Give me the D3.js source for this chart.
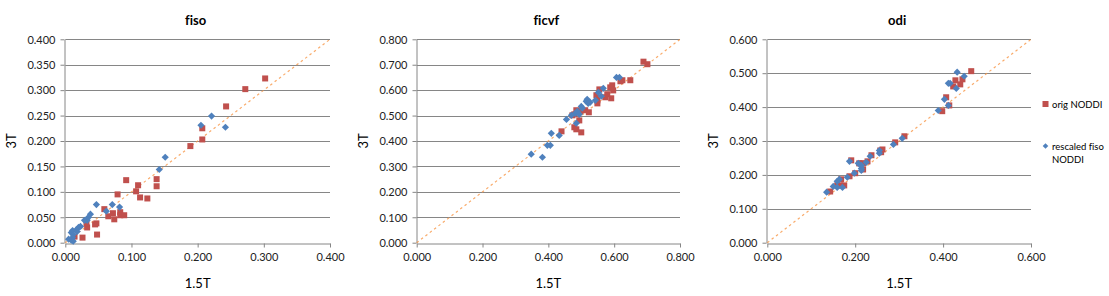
<!DOCTYPE html>
<html lang="en">
<head>
<meta charset="UTF-8">
<title>fiso / ficvf / odi 1.5T vs 3T</title>
<script src="https://d3js.org/d3.v7.min.js"></script>
<style>
    body { margin: 0; padding: 0; background: #fff; }
    svg { display: block; font-family: Lato, "Liberation Sans", Arial, sans-serif; font-variant-ligatures: none; }
    .tick text { fill: #222; font-size: 11px; }
</style>
</head>
<body>
<svg id="chart" width="1109" height="296"></svg>
<script>
// [1.5T, 3T] pairs
const fisoOrig = [
    [0.302, 0.323], [0.272, 0.302], [0.243, 0.268], [0.207, 0.225], [0.207, 0.203],
    [0.189, 0.190], [0.138, 0.125], [0.138, 0.111], [0.092, 0.123], [0.110, 0.113],
    [0.107, 0.101], [0.113, 0.089], [0.124, 0.087], [0.079, 0.095], [0.059, 0.066],
    [0.072, 0.058], [0.065, 0.052], [0.074, 0.046], [0.083, 0.060], [0.083, 0.054],
    [0.089, 0.054], [0.047, 0.038], [0.045, 0.036], [0.033, 0.030], [0.032, 0.038],
    [0.048, 0.016], [0.026, 0.010], [0.014, 0.012]
];
const fisoRescaled = [
    [0.221, 0.249], [0.205, 0.231], [0.242, 0.227], [0.151, 0.168], [0.142, 0.144],
    [0.047, 0.075], [0.071, 0.075], [0.082, 0.070], [0.062, 0.062], [0.038, 0.056],
    [0.035, 0.050], [0.033, 0.044], [0.029, 0.044], [0.023, 0.032], [0.020, 0.030],
    [0.017, 0.026], [0.018, 0.022], [0.011, 0.024], [0.009, 0.020], [0.012, 0.016],
    [0.011, 0.010], [0.005, 0.007], [0.009, 0.005], [0.012, 0.003]
];
const ficvfOrig = [
    [0.689, 0.712], [0.701, 0.702], [0.649, 0.639], [0.625, 0.639], [0.619, 0.635],
    [0.594, 0.619], [0.588, 0.611], [0.597, 0.599], [0.555, 0.603], [0.579, 0.584],
    [0.573, 0.572], [0.591, 0.568], [0.546, 0.580], [0.549, 0.560], [0.549, 0.548],
    [0.512, 0.521], [0.497, 0.517], [0.485, 0.521], [0.523, 0.513], [0.479, 0.505],
    [0.473, 0.501], [0.494, 0.481], [0.440, 0.438], [0.479, 0.454], [0.485, 0.446],
    [0.500, 0.434]
];
const ficvfRescaled = [
    [0.607, 0.650], [0.616, 0.650], [0.567, 0.607], [0.552, 0.591], [0.561, 0.576],
    [0.543, 0.560], [0.518, 0.564], [0.515, 0.556], [0.521, 0.548], [0.527, 0.552],
    [0.500, 0.536], [0.503, 0.529], [0.488, 0.517], [0.482, 0.509], [0.494, 0.505],
    [0.470, 0.501], [0.455, 0.485], [0.485, 0.470], [0.409, 0.430], [0.433, 0.422],
    [0.397, 0.383], [0.406, 0.383], [0.348, 0.348], [0.382, 0.336]
];
const odiOrig = [
    [0.464, 0.506], [0.444, 0.482], [0.428, 0.479], [0.439, 0.467], [0.423, 0.461],
    [0.407, 0.429], [0.414, 0.405], [0.398, 0.388], [0.312, 0.314], [0.291, 0.296],
    [0.262, 0.275], [0.257, 0.272], [0.259, 0.267], [0.237, 0.258], [0.228, 0.240],
    [0.218, 0.234], [0.214, 0.234], [0.209, 0.234], [0.218, 0.216], [0.191, 0.243],
    [0.200, 0.205], [0.187, 0.196], [0.168, 0.187], [0.175, 0.169], [0.166, 0.169],
    [0.159, 0.169], [0.143, 0.151]
];
const odiRescaled = [
    [0.432, 0.503], [0.448, 0.491], [0.412, 0.470], [0.416, 0.470], [0.430, 0.455],
    [0.403, 0.423], [0.412, 0.405], [0.389, 0.390], [0.307, 0.308], [0.287, 0.290],
    [0.255, 0.272], [0.255, 0.264], [0.234, 0.255], [0.225, 0.237], [0.207, 0.234],
    [0.214, 0.228], [0.214, 0.219], [0.214, 0.213], [0.187, 0.240], [0.198, 0.205],
    [0.182, 0.193], [0.164, 0.187], [0.159, 0.181], [0.150, 0.166], [0.159, 0.163],
    [0.171, 0.163], [0.135, 0.149]
];

const panelTitles = ['fiso', 'ficvf', 'odi'];
const axisMax = [0.4, 0.8, 0.6];
const xTickStep = [0.1, 0.2, 0.2];
const yTickStep = [0.05, 0.1, 0.1];
const seriesNames = ['orig NODDI', 'rescaled fiso NODDI'];

const panelData = [
    [fisoOrig, fisoRescaled],
    [ficvfOrig, ficvfRescaled],
    [odiOrig, odiRescaled]
];

// plot area boxes (left, right) per panel, shared top/bottom
const plotLeft = [65.3, 416.7, 767.3];
const plotRight = [330, 680, 1031];
const plotTop = 39.3;
const plotBottom = 242.7;

const red = '#C0504D';
const blue = '#4F81BD';
const gridColor = '#868686';

const svg = d3.select('#chart');
const fmt = d3.format('.3f');

const diamond = 'M0,-3.6L3.6,0L0,3.6L-3.6,0Z';

panelTitles.forEach((title, i) => {
    const x = d3.scaleLinear().domain([0, axisMax[i]]).range([plotLeft[i], plotRight[i]]);
    const y = d3.scaleLinear().domain([0, axisMax[i]]).range([plotBottom, plotTop]);
    const xTicks = d3.range(0, axisMax[i] + 1e-9, xTickStep[i]);
    const yTicks = d3.range(0, axisMax[i] + 1e-9, yTickStep[i]);

    const g = svg.append('g');

    // horizontal gridlines
    g.selectAll('.grid')
        .data(yTicks.filter(d => d > 0))
        .enter()
        .append('line')
        .attr('x1', plotLeft[i])
        .attr('x2', plotRight[i])
        .attr('y1', d => Math.round(y(d)) + 0.5)
        .attr('y2', d => Math.round(y(d)) + 0.5)
        .attr('stroke', gridColor)
        .attr('stroke-width', 1);

    // axes
    const xAxis = g.append('g')
        .attr('transform', `translate(0,${Math.round(plotBottom) + 0.5})`)
        .call(d3.axisBottom(x).tickValues(xTicks).tickFormat(fmt).tickSize(4).tickSizeOuter(0).tickPadding(6));
    const yAxis = g.append('g')
        .attr('transform', `translate(${Math.round(plotLeft[i]) - 0.5},0)`)
        .call(d3.axisLeft(y).tickValues(yTicks).tickFormat(fmt).tickSize(4).tickSizeOuter(0).tickPadding(5));
    [xAxis, yAxis].forEach(a => {
        a.select('.domain').attr('stroke', gridColor);
        a.selectAll('.tick line').attr('stroke', gridColor);
        a.selectAll('.tick text').attr('font-family', 'Lato, "Liberation Sans", Arial, sans-serif');
    });
    yAxis.selectAll('.tick text').attr('dy', '0.34em');

    // identity line
    g.append('line')
        .attr('x1', x(0))
        .attr('y1', y(0))
        .attr('x2', x(axisMax[i]))
        .attr('y2', y(axisMax[i]))
        .attr('stroke', '#F79646')
        .attr('stroke-opacity', 0.8)
        .attr('stroke-width', 1.2)
        .attr('stroke-dasharray', '2.5,3');

    // orig NODDI
    g.selectAll('.orig')
        .data(panelData[i][0])
        .enter()
        .append('rect')
        .attr('x', d => x(d[0]) - 3)
        .attr('y', d => y(d[1]) - 3)
        .attr('width', 6)
        .attr('height', 6)
        .attr('fill', red);

    // rescaled fiso NODDI
    g.selectAll('.resc')
        .data(panelData[i][1])
        .enter()
        .append('path')
        .attr('d', diamond)
        .attr('transform', d => `translate(${x(d[0])},${y(d[1])})`)
        .attr('fill', blue);

    // title and axis labels
    const cx = (plotLeft[i] + plotRight[i]) / 2;
    g.append('text')
        .attr('x', cx - 2)
        .attr('y', 25)
        .attr('text-anchor', 'middle')
        .attr('font-size', 13)
        .attr('font-weight', 'bold')
        .attr('fill', '#000')
        .text(title);
    g.append('text')
        .attr('x', cx)
        .attr('y', 288)
        .attr('text-anchor', 'middle')
        .attr('font-size', 13)
        .attr('fill', '#000')
        .text('1.5T');
    g.append('text')
        .attr('transform', `translate(${plotLeft[i] - 49},${(plotTop + plotBottom) / 2}) rotate(-90)`)
        .attr('text-anchor', 'middle')
        .attr('font-size', 13)
        .attr('fill', '#000')
        .text('3T');
});

// legend (right of the last panel)
const legend = svg.append('g').attr('font-size', 9.5).attr('fill', '#000');
legend.append('rect')
    .attr('x', 1042.5)
    .attr('y', 101)
    .attr('width', 6)
    .attr('height', 6)
    .attr('fill', red);
legend.append('text')
    .attr('x', 1052)
    .attr('y', 107.5)
    .text(seriesNames[0]);
legend.append('path')
    .attr('d', 'M0,-2.8L2.8,0L0,2.8L-2.8,0Z')
    .attr('transform', 'translate(1045.5,146)')
    .attr('fill', blue);
legend.append('text')
    .attr('x', 1052)
    .attr('y', 149.5)
    .text('rescaled fiso');
legend.append('text')
    .attr('x', 1052)
    .attr('y', 162.5)
    .text('NODDI');
</script>
</body>
</html>
